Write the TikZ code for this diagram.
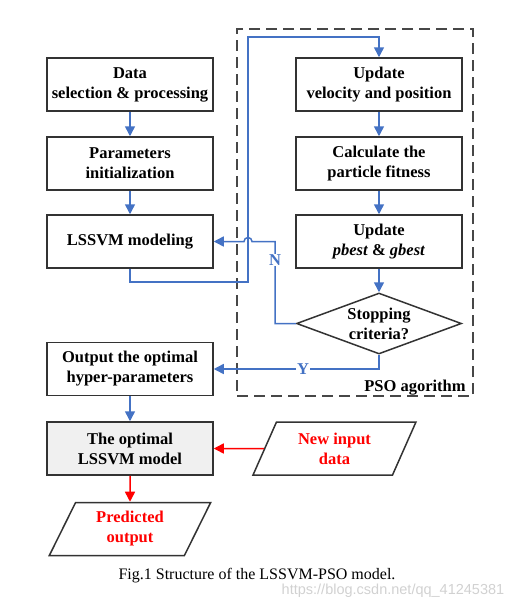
\documentclass[tikz,border=0pt]{standalone}
\usepackage{fontspec}
\setmainfont{Liberation Serif}
\newfontfamily\wmfont{Liberation Sans}
\usetikzlibrary{shapes.geometric,arrows.meta}

\definecolor{flowblue}{RGB}{68,114,196}
\definecolor{boxline}{RGB}{51,51,51}
\definecolor{modelgray}{RGB}{240,240,240}

\begin{document}
\begin{tikzpicture}[
          x=1pt, y=-1pt,
          font=\fontsize{16.5}{20}\selectfont\bfseries,
          block/.style = {draw=boxline, line width=1.5pt, rectangle, minimum width=166pt, minimum height=53pt, inner sep=0pt, align=center},
          iobox/.style = {draw=boxline, line width=1.5pt, trapezium, trapezium left angle=65, trapezium right angle=115, trapezium stretches=true, minimum width=163pt, minimum height=53pt, inner sep=0pt, align=center, text=red},
          flow/.style = {draw=flowblue, line width=1.5pt, -{Triangle[length=10pt,width=10pt]}},
          redflow/.style = {draw=red, line width=1.5pt, -{Triangle[length=10pt,width=10pt]}},
          yn/.style = {fill=white, text=flowblue, inner sep=1pt}
        ]
        \useasboundingbox (0,0) rectangle (524,606);

        % PSO frame
        \node[draw=boxline!90, dash pattern=on 11pt off 6pt, line width=1.6pt, minimum width=236pt, minimum height=367pt, inner sep=0pt] (pso) at (355,212.5) {};
        \node[anchor=south east, inner sep=2pt] (psolabel) at ([xshift=-6pt,yshift=-1pt]pso.south east) {PSO agorithm};

        % left column
        \node[block] (data) at (130,84.5) {Data\\selection \& processing};
        \node[block] (params) at (130,163.5) {Parameters\\initialization};
        \node[block] (lssvm) at (130,241.5) {LSSVM modeling};
        \node[block] (outp) at (130,369) {Output the optimal\\hyper-parameters};
        \node[block, fill=modelgray] (optm) at (130,448.5) {The optimal\\LSSVM model};
        \node[iobox] (pred) at (130,529) {Predicted\\output};
        \node[iobox] (newin) at (334.5,448.5) {New input\\data};

        % right column
        \node[block] (update) at (379,84.5) {Update\\velocity and position};
        \node[block] (fitness) at (379,163.5) {Calculate the\\particle fitness};
        \node[block] (pbest) at (379,241.5) {Update\\\textit{pbest} \& \textit{gbest}};
        \node[draw=boxline, line width=1.5pt, diamond, aspect=2.7, minimum width=165pt, minimum height=61pt, inner sep=0pt, align=center] (stop) at (379,323.5) {Stopping\\criteria?};

        \draw[flow] (data) -- (params);
        \draw[flow] (params) -- (lssvm);
        \draw[flow] (outp) -- (optm);
        \draw[flow] (update) -- (fitness);
        \draw[flow] (fitness) -- (pbest);
        \draw[flow] (pbest) -- (stop);
        \draw[redflow] (optm) -- (pred);
        \draw[redflow] (newin) -- (optm);

        \draw[flow] (lssvm.south) -- ++(0,13) -| (248,37) -| (update.north);
        \draw[flow] (stop.west) -| (275,241.5) -- (252,241.5) arc[start angle=0, end angle=180, radius=4pt] -- (lssvm.east);
        \node[yn] (nlabel) at (275,260) {N};
        \draw[flow] (stop.south) |- (outp.east);
        \node[yn] (ylabel) at (303,369) {Y};

        % caption
        \node[font=\fontsize{16}{19}\selectfont] (caption) at (257,576) {Fig.1 Structure of the LSSVM-PSO model.};
        \node[font=\wmfont\fontsize{14.5}{17}\selectfont, text=black!18] (wm) at (393,591) {https://blog.csdn.net/qq\_41245381};
      \end{tikzpicture}
\end{document}
